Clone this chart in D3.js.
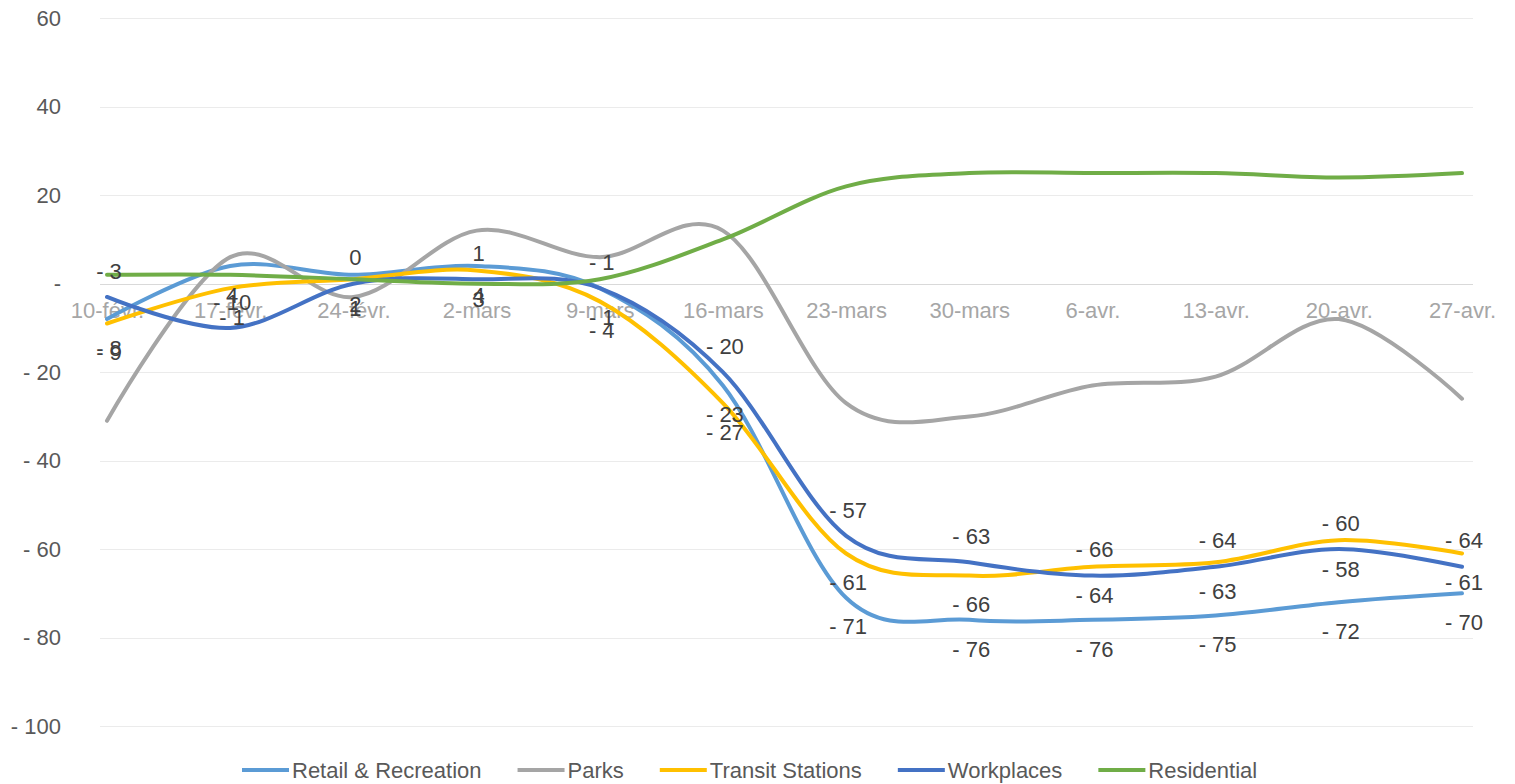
<!DOCTYPE html>
<html>
<head>
<meta charset="utf-8">
<script src="https://cdn.jsdelivr.net/npm/d3@7"></script>
<style>
  body { margin: 0; background: #fff; }
  svg { display: block; font-family: "Liberation Sans", Arial, sans-serif; }
</style>
</head>
<body>
<svg id="chart" width="1515" height="784"></svg>
<script>
var dates = ["10-févr.", "17-févr.", "24-févr.", "2-mars", "9-mars", "16-mars", "23-mars", "30-mars", "6-avr.", "13-avr.", "20-avr.", "27-avr."];

var retail      = [-8, 4, 2, 4, -1, -23, -71, -76, -76, -75, -72, -70];
var parks       = [-31, 6, -3, 12, 6, 12, -27, -30, -23, -21, -8, -26];
var transit     = [-9, -1, 1, 3, -4, -27, -61, -66, -64, -63, -58, -61];
var workplaces  = [-3, -10, 0, 1, -1, -20, -57, -63, -66, -64, -60, -64];
var residential = [2, 2, 1, 0, 1, 10, 22, 25, 25, 25, 24, 25];

var yTicks = [60, 40, 20, 0, -20, -40, -60, -80, -100];

var series = [
  {name: "Retail & Recreation", values: retail,      color: "#5b9bd5", label: "below"},
  {name: "Parks",               values: parks,       color: "#a5a5a5", label: null},
  {name: "Transit Stations",    values: transit,     color: "#ffc000", label: "below"},
  {name: "Workplaces",          values: workplaces,  color: "#4472c4", label: "above"},
  {name: "Residential",         values: residential, color: "#70ad47", label: null}
];

var FONT = 22;
var svg = d3.select("#chart");

var x = d3.scalePoint().domain(dates).range([107, 1462]);
var y = d3.scaleLinear().domain([-100, 60]).range([726, 18.3]);

function axisFormat(v) {
  if (v === 0) return "-";
  return v < 0 ? "- " + Math.abs(v) : "" + v;
}

function labelFormat(v) {
  return v < 0 ? "- " + Math.abs(v) : "" + v;
}

/*  GRID + AXES  */
var grid = svg.append("g").attr("class", "grid");
grid.selectAll("line").data(yTicks).enter().append("line")
  .attr("x1", 100).attr("x2", 1473)
  .attr("y1", function(d) { return Math.round(y(d)) + 0.5; })
  .attr("y2", function(d) { return Math.round(y(d)) + 0.5; })
  .attr("stroke", function(d) { return d === 0 ? "#d9d9d9" : "#ebebeb"; })
  .attr("stroke-width", 1);

var yAxis = svg.append("g").attr("transform", "translate(61,0)")
  .call(d3.axisLeft(y).tickValues(yTicks).tickFormat(axisFormat).tickSize(0).tickPadding(0));
yAxis.select(".domain").remove();
yAxis.selectAll("text")
  .attr("font-size", FONT).attr("font-family", "Liberation Sans, Arial, sans-serif")
  .attr("fill", "#595959");

var xAxis = svg.append("g").attr("transform", "translate(0," + y(0) + ")")
  .call(d3.axisBottom(x).tickSize(0).tickPadding(19));
xAxis.select(".domain").remove();
xAxis.selectAll("text")
  .attr("font-size", FONT).attr("font-family", "Liberation Sans, Arial, sans-serif")
  .attr("fill", "#a6a6a6");

/*  LINES  */
var line = d3.line()
  .x(function(d, i) { return x(dates[i]); })
  .y(function(d) { return y(d); })
  .curve(d3.curveCardinal.tension(0));

svg.append("g").attr("class", "lines")
  .selectAll("path").data(series).enter().append("path")
  .attr("d", function(s) { return line(s.values); })
  .attr("fill", "none")
  .attr("stroke", function(s) { return s.color; })
  .attr("stroke-width", 4)
  .attr("stroke-linecap", "round")
  .attr("stroke-linejoin", "round");

/*  DATA LABELS  */
var labelGroup = svg.append("g").attr("class", "labels");
series.forEach(function(s) {
  if (!s.label) return;
  var off = s.label === "above" ? -26 : 29;
  labelGroup.selectAll(null).data(s.values).enter().append("text")
    .attr("x", function(d, i) { return x(dates[i]) + 2; })
    .attr("y", function(d) { return y(d) + off; })
    .attr("dy", "0.35em")
    .attr("text-anchor", "middle")
    .attr("font-size", FONT)
    .attr("fill", "#404040")
    .text(labelFormat);
});

/*  LEGEND  */
var legend = svg.append("g").attr("class", "legend");
var lx = 242;
series.forEach(function(s) {
  var item = legend.append("g");
  item.append("line")
    .attr("x1", lx).attr("x2", lx + 47)
    .attr("y1", 770).attr("y2", 770)
    .attr("stroke", s.color).attr("stroke-width", 4);
  var t = item.append("text")
    .attr("x", lx + 50).attr("y", 770).attr("dy", "0.35em")
    .attr("font-size", FONT).attr("fill", "#595959")
    .text(s.name);
  lx += 50 + t.node().getComputedTextLength() + 36;
});
</script>
</body>
</html>
